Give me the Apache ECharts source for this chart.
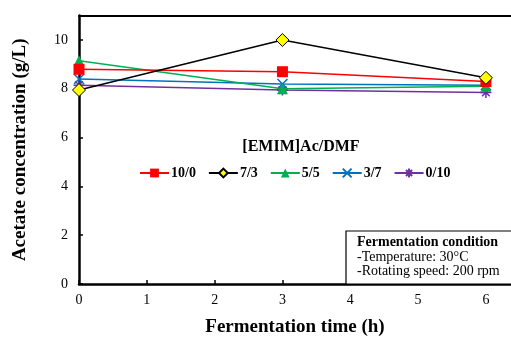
<!DOCTYPE html>
<html><head><meta charset="utf-8">
<script src="https://cdn.jsdelivr.net/npm/echarts@6/dist/echarts.min.js"></script>
<style>html,body{margin:0;padding:0;background:#fff}#c{width:511px;height:345px}</style>
</head><body><div id="c"></div>
<script>
const times = [0, 3, 6];
const xTicks = [0, 1, 2, 3, 4, 5, 6];
const yTicks = [0, 2, 4, 6, 8, 10];
const seriesNames = ['10/0', '7/3', '5/5', '3/7', '0/10'];
const s10_0 = [8.8, 8.7, 8.3];
const s7_3 = [7.95, 10.0, 8.45];
const s5_5 = [9.15, 8.0, 8.1];
const s3_7 = [8.4, 8.2, 8.15];
const s0_10 = [8.15, 7.95, 7.85];

const F = '"Liberation Serif", "Times New Roman", serif';
const xMark = 'path://M0,0 L10,10 M10,0 L0,10';
const star = 'path://M5,0 L5,10 M0,5 L10,5 M1.5,1.5 L8.5,8.5 M8.5,1.5 L1.5,8.5';

const styles = [
  {data: s10_0, line: '#FF0000', symbol: 'rect', size: 11, fill: '#FF0000', border: '#FF0000', bw: 0, z: 5},
  {data: s7_3, line: '#000000', symbol: 'diamond', size: 13, fill: '#FFFF00', border: '#000000', bw: 1, z: 6},
  {data: s5_5, line: '#00B050', symbol: 'triangle', size: 11, fill: '#00B050', border: '#00B050', bw: 0, z: 4},
  {data: s3_7, line: '#0070C0', symbol: xMark, size: 10, fill: 'none', border: '#0070C0', bw: 1.5, z: 3},
  {data: s0_10, line: '#7030A0', symbol: star, size: 11, fill: 'none', border: '#7030A0', bw: 1.5, z: 2}
];

const chart = echarts.init(document.getElementById('c'));
chart.setOption({
  animation: false,
  title: {
    text: '[EMIM]Ac/DMF', left: 296, top: 134, textAlign: 'center',
    textStyle: {fontFamily: F, fontSize: 16, fontWeight: 'bold', color: '#000'}
  },
  legend: {
    data: seriesNames, left: 134, top: 161, itemWidth: 29, itemHeight: 11, itemGap: 12,
    textStyle: {fontFamily: F, fontSize: 14, fontWeight: 'bold', color: '#000', padding: [0, 0, 0, -3]}
  },
  grid: {left: 79, top: 15.6, bottom: 61, right: 0, show: false, containLabel: false},
  xAxis: [{
    type: 'value', min: 0, max: 6.37, interval: 1,
    name: 'Fermentation time (h)', nameLocation: 'middle', nameGap: 34,
    nameTextStyle: {fontFamily: F, fontSize: 19, fontWeight: 'bold', color: '#000'},
    axisLine: {show: true, lineStyle: {color: '#000', width: 2.5}},
    axisTick: {show: true, inside: true, length: 4, lineStyle: {color: '#000', width: 1.5}},
    axisLabel: {fontFamily: F, fontSize: 14, color: '#000', margin: 9, showMaxLabel: false,
      formatter: v => xTicks.includes(v) ? String(v) : ''},
    splitLine: {show: false}
  }, {
    type: 'value', position: 'top', min: 0, max: 6.37,
    axisLine: {show: true, onZero: false, lineStyle: {color: '#000', width: 2}},
    axisTick: {show: false}, axisLabel: {show: false}, splitLine: {show: false}
  }],
  yAxis: {
    type: 'value', min: 0, max: 11, interval: 2,
    name: 'Acetate concentration (g/L)', nameLocation: 'middle', nameGap: 49,
    nameTextStyle: {fontFamily: F, fontSize: 19, fontWeight: 'bold', color: '#000'},
    axisLine: {show: true, lineStyle: {color: '#000', width: 2.5}},
    axisTick: {show: true, inside: true, length: 4, lineStyle: {color: '#000', width: 1.5}},
    axisLabel: {fontFamily: F, fontSize: 14, color: '#000', margin: 11,
      formatter: v => yTicks.includes(v) ? String(v) : ''},
    splitLine: {show: false}
  },
  series: styles.map((s, i) => ({
    name: seriesNames[i], type: 'line', z: s.z, xAxisIndex: 0,
    data: times.map((t, j) => [t, s.data[j]]),
    symbol: s.symbol, symbolSize: s.size, showAllSymbol: true,
    lineStyle: {color: s.line, width: 1.5},
    itemStyle: {color: s.fill === 'none' ? s.border : s.fill, borderColor: s.border, borderWidth: s.bw},
    emphasis: {disabled: true}
  })),
  graphic: [
    {type: 'rect', z: 20,
      shape: {x: 346, y: 231, width: 200, height: 53}, style: {fill: '#fff', stroke: '#000', lineWidth: 1.2}},
    {type: 'text', x: 357, y: 235, z: 21,
      style: {text: 'Fermentation condition', font: 'bold 14px ' + F, fill: '#000'}},
    {type: 'text', x: 357, y: 250, z: 21,
      style: {text: '-Temperature: 30°C', font: '14px ' + F, fill: '#000'}},
    {type: 'text', x: 357, y: 264, z: 21,
      style: {text: '-Rotating speed: 200 rpm', font: '14px ' + F, fill: '#000'}}
  ]
});
</script></body></html>
